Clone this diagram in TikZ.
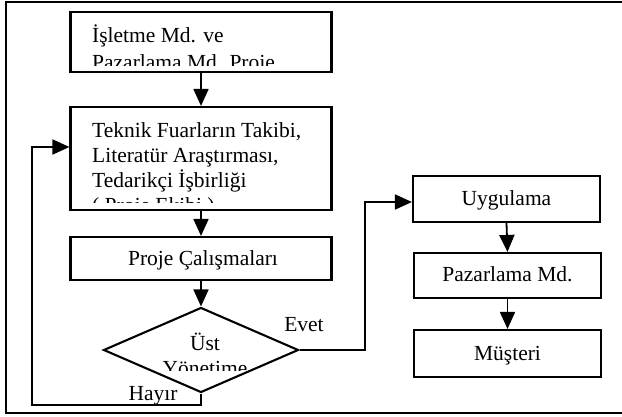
\documentclass[tikz,border=0pt]{standalone}
\usepackage{fontspec}
\setmainfont{Liberation Serif}
\usetikzlibrary{shapes.geometric,arrows.meta}
\newcommand\fsz{\fontsize{21.5}{25}\selectfont}
\begin{document}
\begin{tikzpicture}[x=1pt,y=-1pt,
  frame/.style={line width=2.6pt},
  box/.style={draw, line width=2.1pt, inner sep=0pt},
  txt/.style={font=\fsz, inner sep=0pt, anchor=base west},
  ctxt/.style={font=\fsz, inner sep=0pt, anchor=base},
  arr/.style={line width=1.8pt, -{Triangle[length=17pt,width=15pt]}},
  ln/.style={line width=1.8pt}]
\useasboundingbox (0,0) rectangle (622,417);
\draw[frame] (622,2) -- (6,2) -- (6,413) -- (622,413);

% left column boxes
\node[box, minimum width=261pt, minimum height=60pt] (b1) at (201,42) {};
\begin{scope}
  \clip (73,14) rectangle (330,66);
  \node[txt] (t1a) at (92,43) {İşletme Md. ve};
  \node[txt] (t1b) at (92,70) {Pazarlama Md. Proje};
\end{scope}

\node[box, minimum width=261pt, minimum height=103pt] (b2) at (201,158.5) {};
\begin{scope}
  \clip (73,109) rectangle (330,203);
  \node[txt] (t2a) at (92,138) {Teknik Fuarların Takibi,};
  \node[txt] (t2b) at (92,163) {Literatür Araştırması,};
  \node[txt] (t2c) at (92,188) {Tedarikçi İşbirliği};
  \node[txt] (t2d) at (92,213) {( Proje Ekibi )};
\end{scope}

\node[box, minimum width=261pt, minimum height=43pt] (b3) at (201,258.5) {};
\node[ctxt] (t3) at (203,265.5) {Proje Çalışmaları};

\node[box, diamond, minimum width=195pt, minimum height=85pt] (d) at (201,350) {};
\begin{scope}
  \clip (140,325) rectangle (262,370);
  \node[ctxt] (td1) at (205,350) {Üst};
  \node[ctxt] (td2) at (205,375) {Yönetime};
\end{scope}

% right column boxes
\node[box, minimum width=187pt, minimum height=46pt] (u) at (506.5,199) {};
\node[ctxt] (tu) at (506.5,205.5) {Uygulama};
\node[box, minimum width=187pt, minimum height=45pt] (p) at (507.5,275.5) {};
\node[ctxt] (tp) at (507.5,282) {Pazarlama Md.};
\node[box, minimum width=187pt, minimum height=47pt] (m) at (507.5,353.5) {};
\node[ctxt] (tm) at (507.5,360) {Müşteri};

% labels
\node[ctxt] (ev) at (304,331) {Evet};
\node[ctxt] (hy) at (153,400) {Hayır};

% connectors
\draw[arr] (b1.south) -- (b2.north);
\draw[arr] (b2.south) -- (b3.north);
\draw[arr] (b3.south) -- (d.north);
\coordinate (c1) at (365,202);
\draw[arr] (d.east) -| (c1) -- (c1 -| u.west);
\draw[arr] (u.south) -- (p.north);
\draw[arr] (p.south) -- (m.north);
\coordinate (c2) at (32,405);
\coordinate (c3) at (32,147);
\draw[arr] (d.south) |- (c2) -- (c3) -- (c3 -| b2.west);
\end{tikzpicture}
\end{document}
